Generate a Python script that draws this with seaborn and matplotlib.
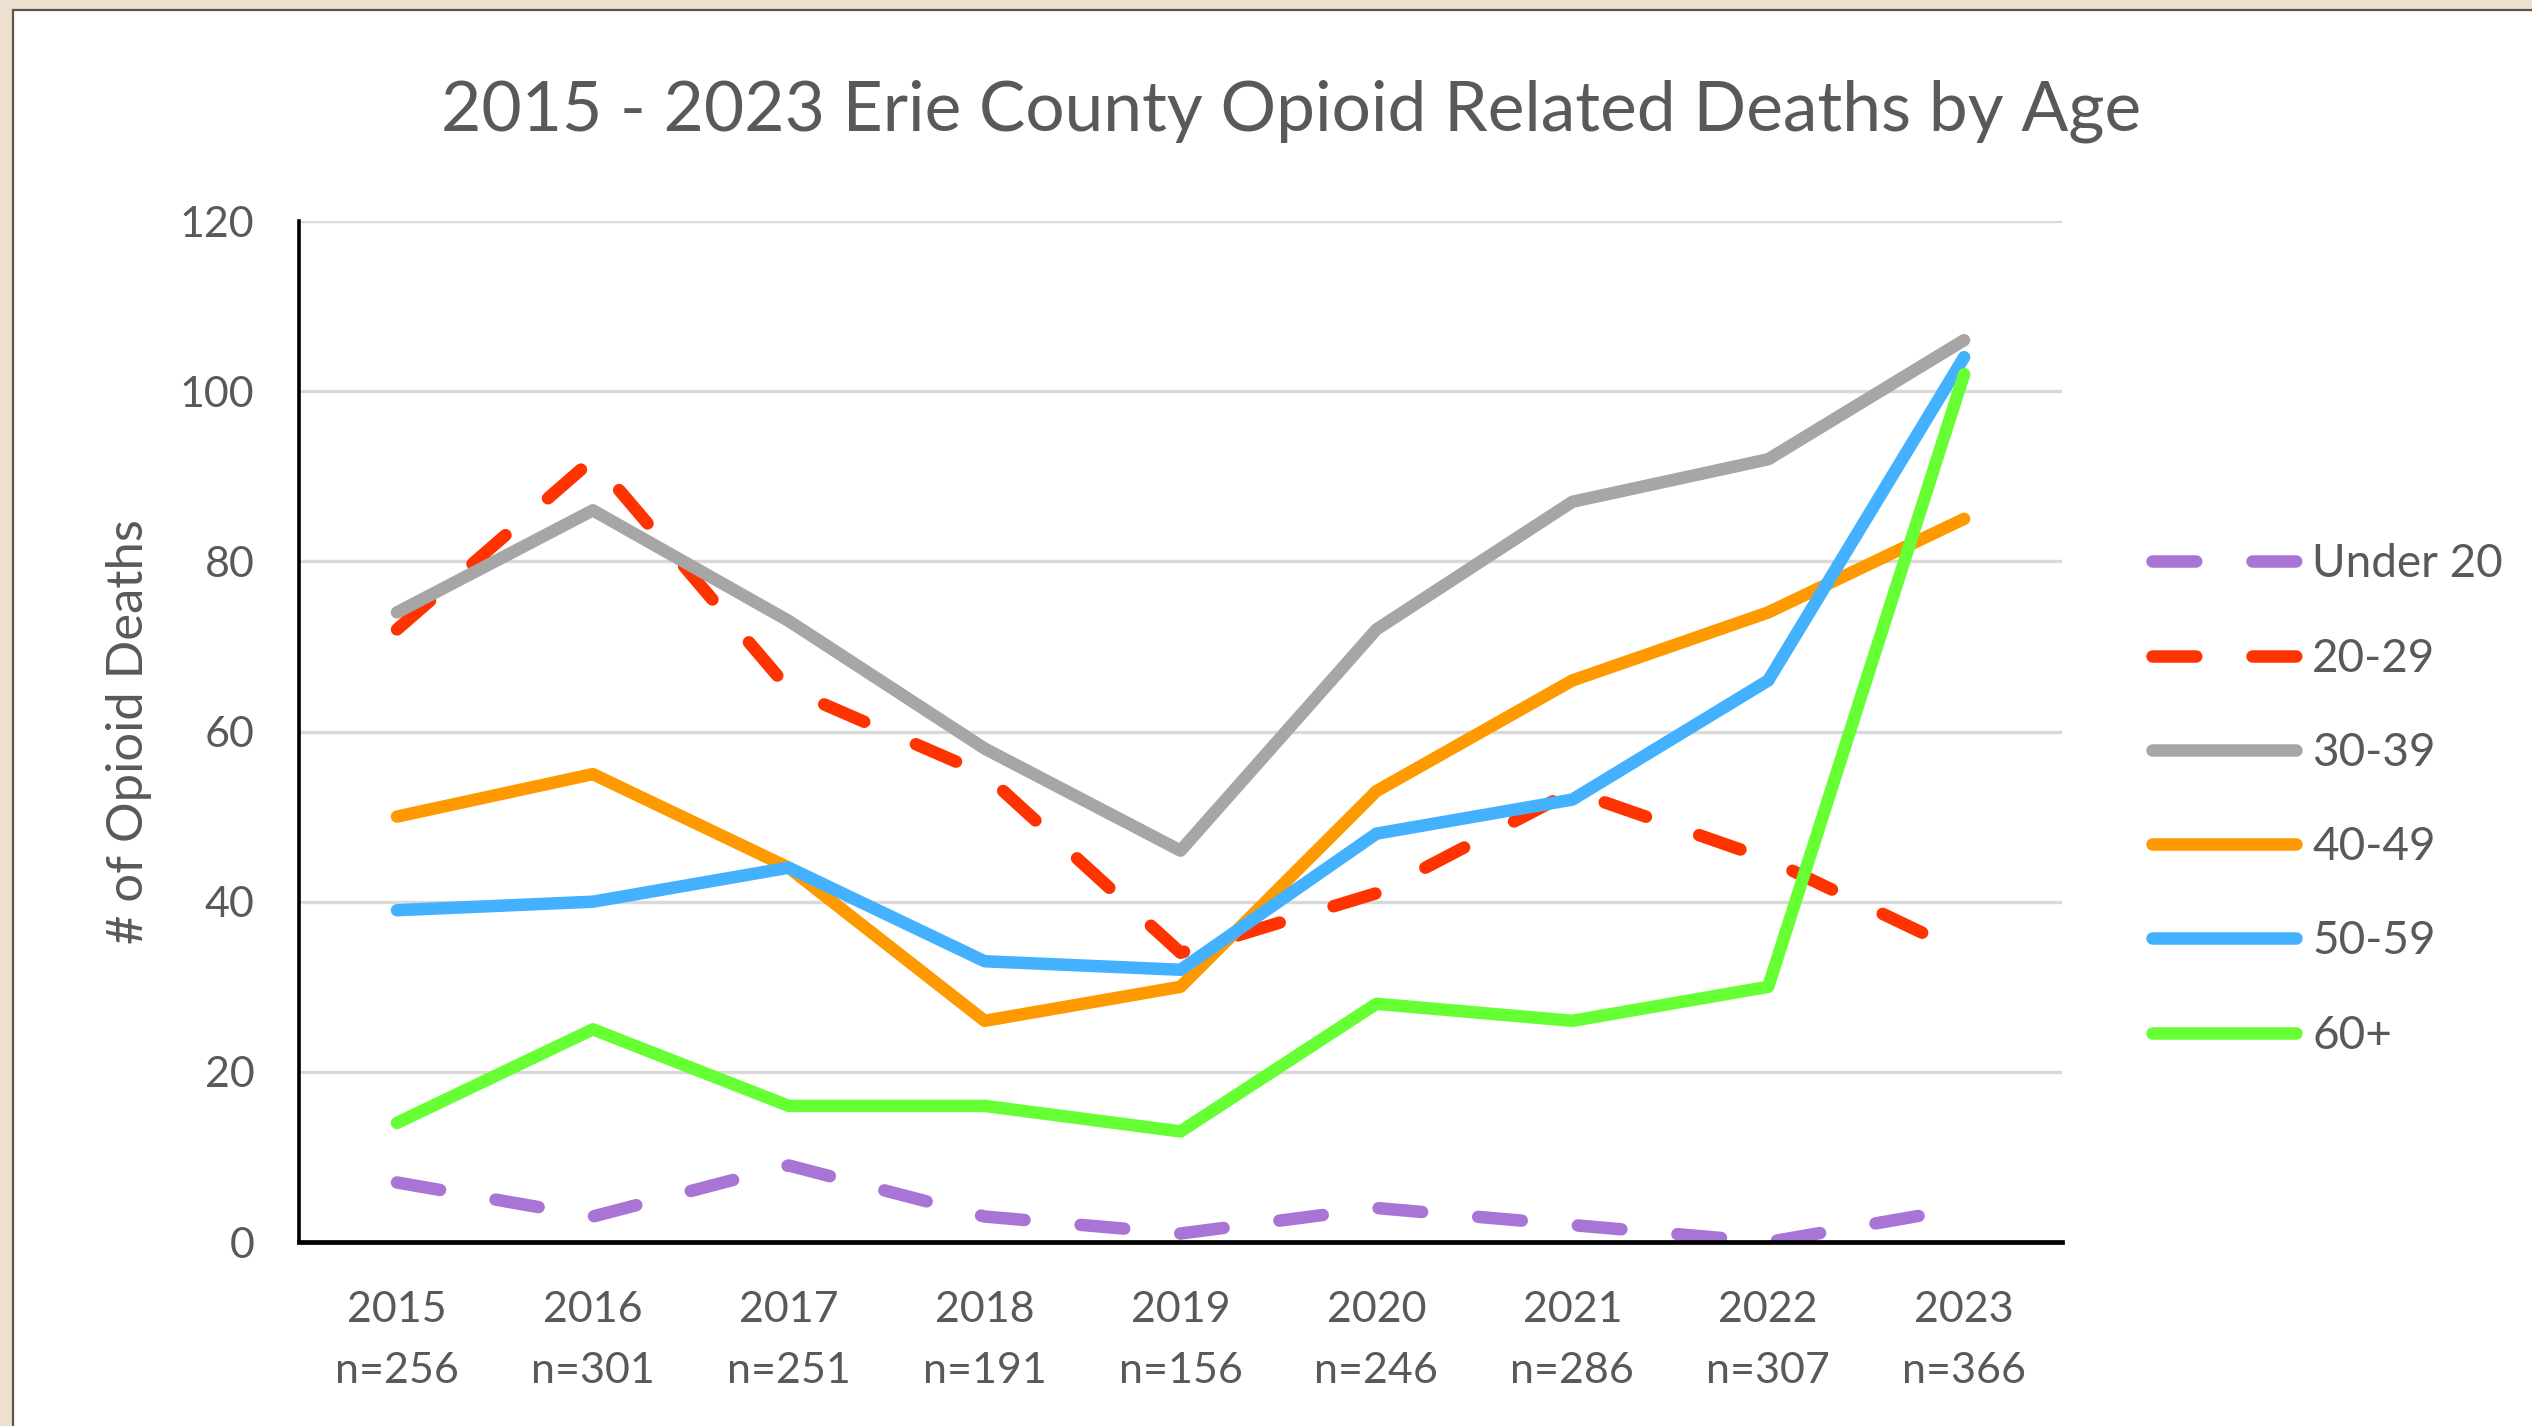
import pandas as pd
import seaborn as sns
import matplotlib.pyplot as plt
from matplotlib.patches import Rectangle

# ==========================================
# data
# ==========================================
years = [2015, 2016, 2017, 2018, 2019, 2020, 2021, 2022, 2023]
n_totals = [256, 301, 251, 191, 156, 246, 286, 307, 366]
age_groups = ['Under 20', '20-29', '30-39', '40-49', '50-59', '60+']

under_20 = [7, 3, 9, 3, 1, 4, 2, 0, 4]
age_20_29 = [72, 92, 65, 55, 34, 41, 53, 45, 34]
age_30_39 = [74, 86, 73, 58, 46, 72, 87, 92, 106]
age_40_49 = [50, 55, 44, 26, 30, 53, 66, 74, 85]
age_50_59 = [39, 40, 44, 33, 32, 48, 52, 66, 104]
age_60_plus = [14, 25, 16, 16, 13, 28, 26, 30, 102]

series = [under_20, age_20_29, age_30_39, age_40_49, age_50_59, age_60_plus]
rows = []
for grp, vals in zip(age_groups, series):
    for yr, v in zip(years, vals):
        rows.append({'Year': yr, 'Deaths': v, 'Age': grp})
df = pd.DataFrame(rows)

colors = {'Under 20': '#A874D6', '20-29': '#FF3300', '30-39': '#A6A6A6',
          '40-49': '#FF9900', '50-59': '#44B1FF', '60+': '#66FF33'}
dash_map = {'Under 20': (3.5, 4.5), '20-29': (3.5, 4.5), '30-39': '',
            '40-49': '', '50-59': '', '60+': ''}

# ==========================================
# style
# ==========================================
sns.set_theme(style="white")
plt.rcParams['font.family'] = ['Lato', 'DejaVu Sans']
text_grey = '#595959'
LW = 9.0

fig = plt.figure(figsize=(25.32, 14.26), dpi=100)
fig.patch.set_facecolor('#EDE0CF')
# white chart panel with thin dark edge (top / left)
fig.patches.append(Rectangle((13 / 2532, -0.05), 1.2, 1.05 - 10 / 1426, transform=fig.transFigure,
                             facecolor='white', edgecolor='#5E554D', lw=1.6, zorder=-10))

ax = fig.add_axes([0.1181, 0.1290, 0.8144 - 0.1181, 0.8450 - 0.1290])
ax.set_facecolor('none')

sns.lineplot(data=df, x='Year', y='Deaths', hue='Age', style='Age',
             hue_order=age_groups, style_order=age_groups,
             palette=colors, dashes=dash_map, linewidth=LW, ax=ax,
             solid_capstyle='round', dash_capstyle='round',
             solid_joinstyle='round', dash_joinstyle='round', zorder=3)

ax.set_xlim(2014.5, 2023.5)
ax.set_ylim(0, 120)
ax.set_yticks(range(0, 121, 20))
ax.yaxis.grid(True, color='#D9D9D9', linewidth=2.4, zorder=0)
ax.xaxis.grid(False)
ax.set_axisbelow(True)

ax.set_xticks(years)
ax.set_xticklabels([f'{y}\nn={n}' for y, n in zip(years, n_totals)],
                   fontsize=31, color=text_grey, linespacing=1.75)
ax.set_xticks([y + 0.5 for y in [2014] + years], minor=True)
ax.tick_params(axis='x', which='major', length=0, pad=35)
ax.tick_params(axis='x', which='minor', length=10, width=2.2, color='black', direction='out')
ax.tick_params(axis='y', length=0, pad=32, labelsize=31, labelcolor=text_grey)

for s in ['top', 'right']:
    ax.spines[s].set_visible(False)
ax.spines['left'].set_color('black')
ax.spines['left'].set_linewidth(2.6)
ax.spines['bottom'].set_color('black')
ax.spines['bottom'].set_linewidth(3.4)
ax.spines['bottom'].set_zorder(4)

ax.set_xlabel('')
ax.set_ylabel('# of Opioid Deaths', fontsize=36.5, color=text_grey, labelpad=20)

fig.text(0.51, 1 - 111 / 1426, '2015 - 2023 Erie County Opioid Related Deaths by Age',
         ha='center', va='center', fontsize=50, color=text_grey)

# legend on the right
handles, labels = ax.get_legend_handles_labels()
ax.get_legend().remove()
for h in handles:
    h.set_linewidth(LW)
    h.set_solid_capstyle('round')
    h.set_dash_capstyle('round')
fig.legend(handles, labels, loc='center left', bbox_to_anchor=(0.850, 0.439),
           frameon=False, fontsize=33, labelcolor=text_grey,
           handlelength=3.14, handletextpad=0.35, labelspacing=1.14,
           borderpad=0, borderaxespad=0)

plt.savefig('out.png', dpi=100, facecolor=fig.get_facecolor())
